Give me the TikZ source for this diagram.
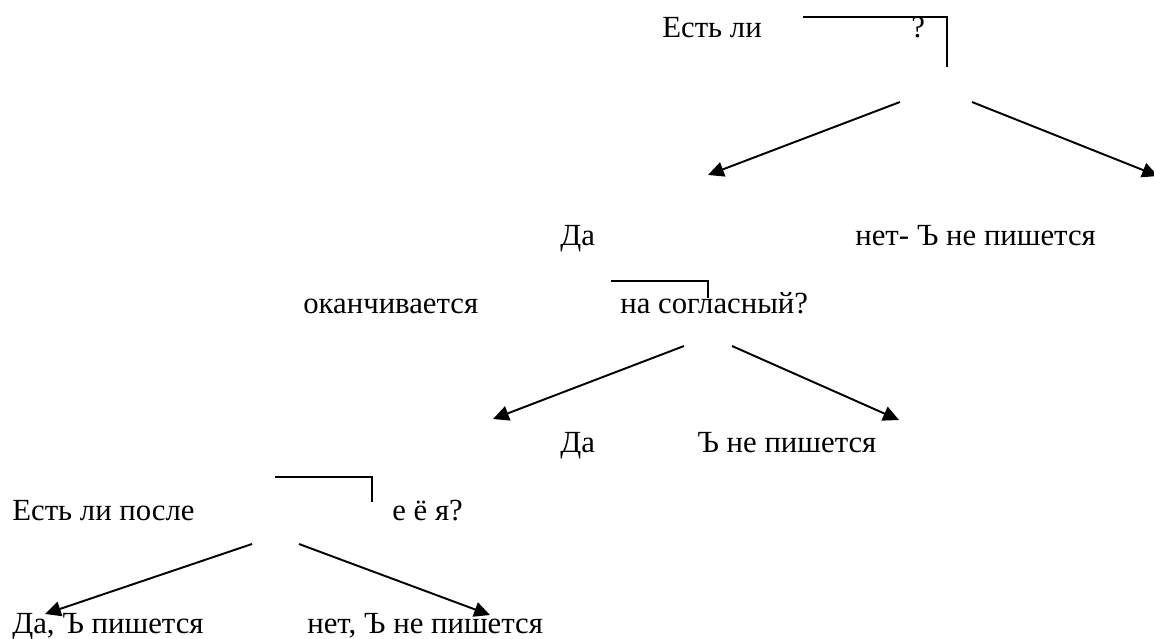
\documentclass[tikz,border=0pt]{standalone}
\usepackage{fontspec}
\setmainfont{Liberation Serif}
\newfontfamily\ruserif{Liberation Serif}
\usetikzlibrary{arrows.meta}

\begin{document}
\begin{tikzpicture}[
    x=0.02cm, y=-0.02cm,
    txt/.style={anchor=base west, inner sep=0pt, font=\ruserif\fontsize{17.5}{21}\selectfont},
    bracket/.style={line width=1pt},
    arrowstyle/.style={-{Triangle[length=9pt,width=8.5pt]}, line width=1.1pt}
]
\useasboundingbox (0,0) rectangle (1154,639);

% Первый вопрос
\node[txt] (q1a) at (662,37) {Есть ли};
\node[txt] (q1b) at (911,37) {?};
\draw[bracket] (803,17) -| (947,67);

\coordinate (s1l) at (900,102);
\coordinate (s1r) at (972,102);
\coordinate (e1l) at (708,175);
\coordinate (e1r) at (1158,176);
\draw[arrowstyle] (s1l) -- (e1l);
\draw[arrowstyle] (s1r) -- (e1r);

% Второй уровень
\node[txt] (da1) at (560,245) {Да};
\node[txt] (net1) at (855,245) {нет- Ъ не пишется};

\node[txt] (q2a) at (303,313) {оканчивается};
\node[txt] (q2b) at (620,313) {на согласный?};
\draw[bracket] (611,281) -| (708,298);

\coordinate (s2l) at (684,346);
\coordinate (s2r) at (732,346);
\coordinate (e2l) at (493,419);
\coordinate (e2r) at (899,420);
\draw[arrowstyle] (s2l) -- (e2l);
\draw[arrowstyle] (s2r) -- (e2r);

% Третий уровень
\node[txt] (da2) at (560,452) {Да};
\node[txt] (net2) at (697,452) {Ъ не пишется};

\node[txt] (q3a) at (12,520) {Есть ли после};
\node[txt] (q3b) at (392,520) {е ё я?};
\draw[bracket] (275,477) -| (372,502);

\coordinate (s3l) at (252,544);
\coordinate (s3r) at (299,544);
\coordinate (e3l) at (45,614);
\coordinate (e3r) at (490,615);
\draw[arrowstyle] (s3l) -- (e3l);
\draw[arrowstyle] (s3r) -- (e3r);

\node[txt] (da3) at (12,633) {Да, Ъ пишется};
\node[txt] (net3) at (307,633) {нет, Ъ не пишется};

\end{tikzpicture}
\end{document}
